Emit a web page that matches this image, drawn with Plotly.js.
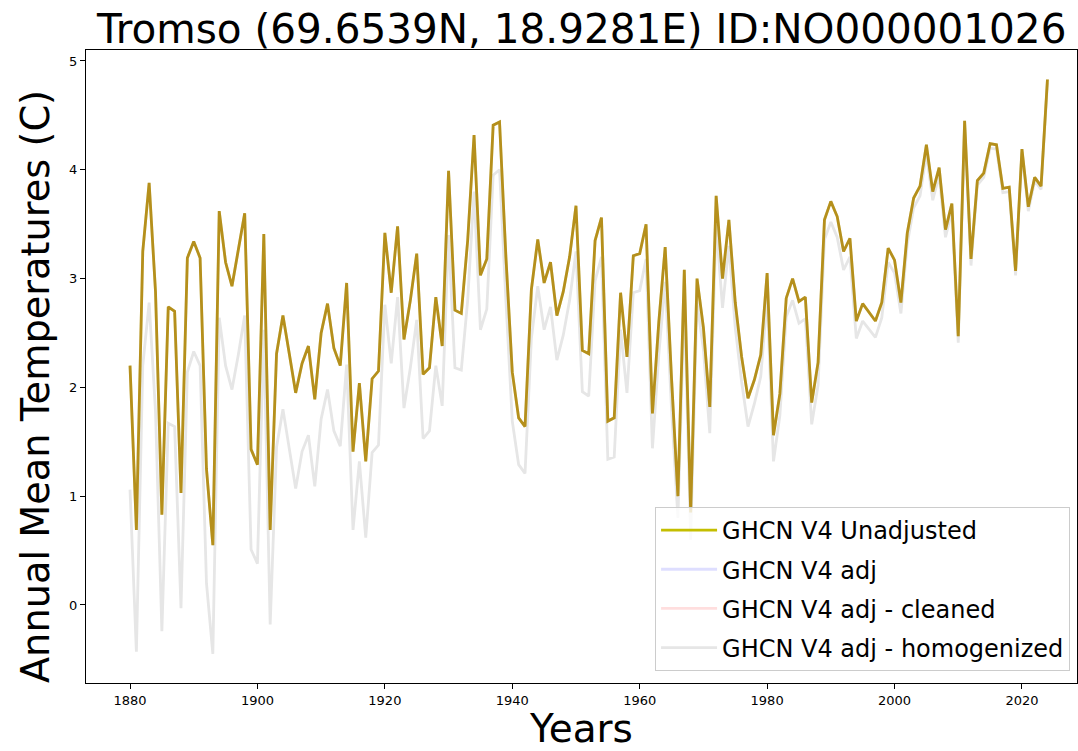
<!DOCTYPE html>
<html>
<head>
<meta charset="utf-8">
<script src="https://cdn.plot.ly/plotly-3.0.1.min.js"></script>
<style>
  html, body { margin: 0; padding: 0; background: #fff; }
  #chart { width: 1078px; height: 751px; }
</style>
</head>
<body>
<div id="chart"></div>
<script>
const startYear = 1880;
const endYear = 2024;

const unadjusted = [
  2.2, 0.69, 3.25, 3.88, 2.88, 0.83, 2.74, 2.7, 1.03, 3.19,
  3.34, 3.19, 1.25, 0.55, 3.62, 3.15, 2.93, 3.25, 3.6, 1.43,
  1.29, 3.41, 0.69, 2.31, 2.66, 2.31, 1.95, 2.22, 2.38, 1.89,
  2.5, 2.77, 2.36, 2.2, 2.96, 1.41, 2.04, 1.32, 2.08, 2.15,
  3.42, 2.87, 3.48, 2.44, 2.8, 3.23, 2.12, 2.18, 2.83, 2.38,
  3.99, 2.71, 2.68, 3.35, 4.32, 3.03, 3.18, 4.41, 4.44, 3.2,
  2.14, 1.72, 1.64, 2.9, 3.36, 2.96, 3.15, 2.66, 2.88, 3.2,
  3.67, 2.34, 2.31, 3.35, 3.56, 1.69, 1.72, 2.87, 2.28, 3.21,
  3.23, 3.5, 1.76, 2.6, 3.29, 2.08, 1.0, 3.08, 0.85, 3.0,
  2.55, 1.82, 3.76, 3.0, 3.54, 2.78, 2.28, 1.9, 2.07, 2.3,
  3.05, 1.56, 1.94, 2.82, 3.0, 2.79, 2.83, 1.86, 2.23, 3.54,
  3.71, 3.57, 3.25, 3.37, 2.61, 2.77, 2.69, 2.61, 2.78, 3.28,
  3.17, 2.78, 3.42, 3.74, 3.85, 4.23, 3.8, 4.02, 3.45, 3.69,
  2.47, 4.45, 3.18, 3.9, 3.97, 4.24, 4.23, 3.83, 3.84, 3.07,
  4.19, 3.66, 3.93, 3.85, 4.83
];

const homogenized = [
  1.06, -0.43, 2.2, 2.78, 1.78, -0.24, 1.67, 1.64, -0.03, 2.14,
  2.33, 2.2, 0.2, -0.45, 2.64, 2.2, 1.98, 2.3, 2.66, 0.51,
  0.38, 2.53, -0.18, 1.45, 1.8, 1.44, 1.07, 1.41, 1.56, 1.09,
  1.71, 1.98, 1.6, 1.46, 2.21, 0.69, 1.32, 0.62, 1.4, 1.47,
  2.76, 2.22, 2.83, 1.81, 2.18, 2.62, 1.53, 1.6, 2.2, 1.83,
  3.4, 2.18, 2.16, 2.8, 3.8, 2.53, 2.72, 3.95, 4.0, 2.8,
  1.69, 1.29, 1.21, 2.45, 2.93, 2.53, 2.74, 2.25, 2.48, 2.8,
  3.25, 1.96, 1.92, 2.98, 3.2, 1.34, 1.36, 2.53, 1.95, 2.87,
  2.89, 3.18, 1.44, 2.3, 2.97, 1.8, 0.8, 2.8, 0.6, 2.78,
  2.35, 1.58, 3.5, 2.73, 3.3, 2.55, 2.05, 1.64, 1.85, 2.1,
  2.83, 1.32, 1.74, 2.65, 2.8, 2.59, 2.63, 1.66, 2.02, 3.36,
  3.52, 3.38, 3.08, 3.2, 2.45, 2.61, 2.54, 2.46, 2.64, 3.15,
  3.05, 2.68, 3.32, 3.65, 3.76, 4.15, 3.72, 3.95, 3.38, 3.62,
  2.41, 4.4, 3.12, 3.86, 3.93, 4.2, 4.19, 3.79, 3.8, 3.03,
  4.16, 3.62, 3.9, 3.82, 4.8
];

// The adjusted series coincide with the unadjusted record at this station
const adjusted = unadjusted;
const adjustedCleaned = unadjusted;

const seriesNames = [
  'GHCN V4 Unadjusted',
  'GHCN V4 adj',
  'GHCN V4 adj - cleaned',
  'GHCN V4 adj - homogenized'
];

const xTickVals = [1880, 1900, 1920, 1940, 1960, 1980, 2000, 2020];
const yTickVals = [0, 1, 2, 3, 4, 5];

const years = [];
for (let y = startYear; y <= endYear; y++) years.push(y);

const FONT = 'DejaVu Sans, Liberation Sans, sans-serif';
const LW = 2.8;

const traces = [
  {
    x: years, y: homogenized, type: 'scatter', mode: 'lines',
    name: seriesNames[3], legendrank: 4, legendgroup: 'd',
    line: { color: 'rgb(230,230,230)', width: LW }
  },
  {
    x: years, y: unadjusted, type: 'scatter', mode: 'lines',
    name: seriesNames[0], legendrank: 1, legendgroup: 'a',
    line: { color: 'rgb(196,190,0)', width: LW }
  },
  {
    x: years, y: adjusted, type: 'scatter', mode: 'lines',
    name: seriesNames[1], legendrank: 2, legendgroup: 'b',
    line: { color: 'rgba(0,0,255,0.13)', width: LW }
  },
  {
    x: years, y: adjustedCleaned, type: 'scatter', mode: 'lines',
    name: seriesNames[2], legendrank: 3, legendgroup: 'c',
    line: { color: 'rgba(255,0,0,0.13)', width: LW }
  }
];

const layout = {
  width: 1078,
  height: 751,
  paper_bgcolor: '#fff',
  plot_bgcolor: '#fff',
  margin: { l: 86, r: 1, t: 50, b: 68 },
  font: { family: FONT, color: '#000' },
  showlegend: true,
  title: {
    text: 'Tromso (69.6539N, 18.9281E) ID:NO000001026',
    font: { family: FONT, size: 40.5, color: '#000' },
    x: 0.5396, xanchor: 'center',
    yref: 'container', y: 0.961, yanchor: 'middle'
  },
  xaxis: {
    range: [1873.09, 2028.64],
    tickvals: xTickVals,
    ticktext: xTickVals.map(String),
    ticks: 'outside', ticklen: 5, tickwidth: 1, tickcolor: '#000',
    tickfont: { family: FONT, size: 13, color: '#000' },
    showgrid: false, zeroline: false,
    showline: true, mirror: true, linecolor: '#000', linewidth: 1,
    title: { text: 'Years', font: { family: FONT, size: 39, color: '#000' }, standoff: 10 },
    automargin: false
  },
  yaxis: {
    range: [-0.717, 5.101],
    tickvals: yTickVals,
    ticktext: yTickVals.map(String),
    ticks: 'outside', ticklen: 5, tickwidth: 1, tickcolor: '#000',
    tickfont: { family: FONT, size: 13, color: '#000' },
    showgrid: false, zeroline: false,
    showline: true, mirror: true, linecolor: '#000', linewidth: 1,
    automargin: false
  },
  annotations: [
    {
      text: 'Annual Mean Temperatures (C)',
      xref: 'paper', yref: 'paper',
      x: -0.0515, y: 0.469,
      xanchor: 'center', yanchor: 'middle',
      textangle: -90, showarrow: false,
      font: { family: FONT, size: 38.3, color: '#000' }
    }
  ],
  legend: {
    x: 0.993, xanchor: 'right',
    y: 0.019, yanchor: 'bottom',
    bgcolor: 'rgba(255,255,255,0.8)',
    bordercolor: '#cccccc', borderwidth: 1,
    font: { family: FONT, size: 24, color: '#000' },
    tracegroupgap: 5,
    itemwidth: 56
  }
};

Plotly.newPlot('chart', traces, layout, { displayModeBar: false, staticPlot: true });
</script>
</body>
</html>
